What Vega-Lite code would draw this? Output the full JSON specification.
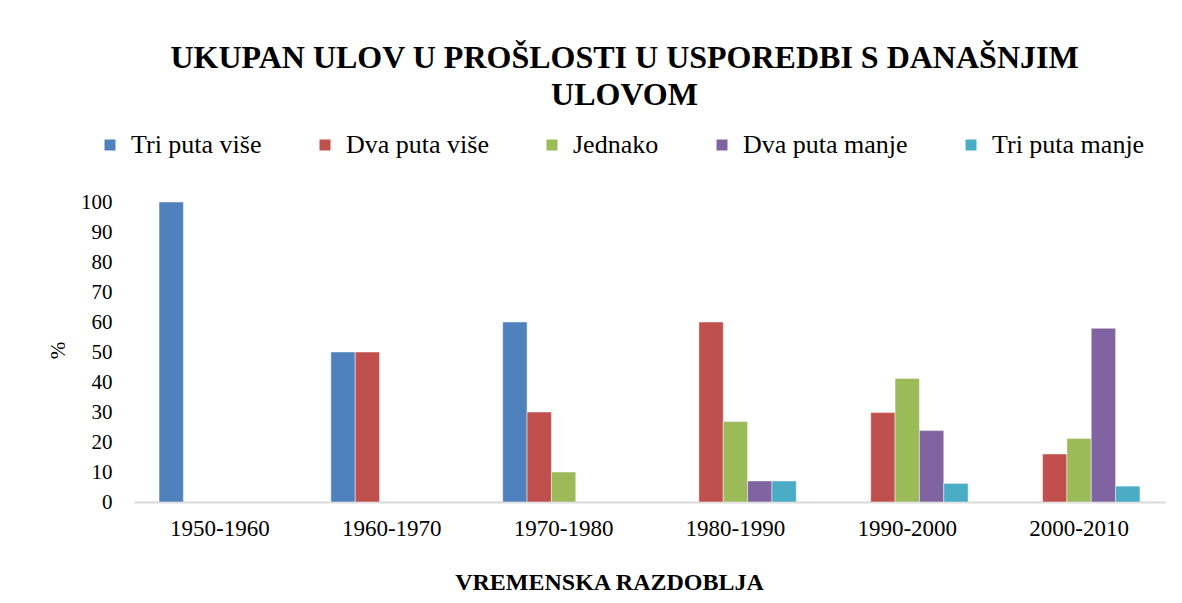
{
  "$schema": "https://vega.github.io/schema/vega-lite/v6.json",
  "width": 1031,
  "height": 300,
  "autosize": {"type": "none"},
  "padding": {"left": 134, "top": 202, "right": 17, "bottom": 101},
  "background": "white",
  "title": {
    "text": ["UKUPAN ULOV U PROŠLOSTI U USPOREDBI S DANAŠNJIM", "ULOVOM"],
    "font": "Liberation Serif",
    "fontSize": 32,
    "fontWeight": "bold",
    "color": "#000000",
    "anchor": "middle",
    "frame": "group",
    "dx": -25,
    "lineHeight": 37,
    "offset": 20
  },
  "data": {
    "values": [
      {"period": "1950-1960", "series": "Tri puta više", "value": 100},
      {"period": "1960-1970", "series": "Tri puta više", "value": 50},
      {"period": "1960-1970", "series": "Dva puta više", "value": 50},
      {"period": "1970-1980", "series": "Tri puta više", "value": 60},
      {"period": "1970-1980", "series": "Dva puta više", "value": 30},
      {"period": "1970-1980", "series": "Jednako", "value": 10},
      {"period": "1980-1990", "series": "Dva puta više", "value": 60},
      {"period": "1980-1990", "series": "Jednako", "value": 26.8},
      {"period": "1980-1990", "series": "Dva puta manje", "value": 7},
      {"period": "1980-1990", "series": "Tri puta manje", "value": 7},
      {"period": "1990-2000", "series": "Dva puta više", "value": 29.8},
      {"period": "1990-2000", "series": "Jednako", "value": 41.2},
      {"period": "1990-2000", "series": "Dva puta manje", "value": 23.8},
      {"period": "1990-2000", "series": "Tri puta manje", "value": 6.2},
      {"period": "2000-2010", "series": "Dva puta više", "value": 16},
      {"period": "2000-2010", "series": "Jednako", "value": 21.2},
      {"period": "2000-2010", "series": "Dva puta manje", "value": 57.9},
      {"period": "2000-2010", "series": "Tri puta manje", "value": 5.3}
    ]
  },
  "mark": {"type": "bar", "stroke": "white", "strokeOpacity": 0.45, "strokeWidth": 1},
  "encoding": {
    "x": {
      "field": "period",
      "type": "nominal",
      "sort": null,
      "scale": {"paddingInner": 0.2915, "paddingOuter": 0.1458},
      "axis": {
        "title": "VREMENSKA RAZDOBLJA",
        "titleFont": "Liberation Serif",
        "titleFontSize": 24,
        "titleFontWeight": "bold",
        "titleColor": "#000000",
        "titleX": 475,
        "titleY": 87,
        "titleAlign": "center",
        "titleBaseline": "alphabetic",
        "labelFont": "Liberation Serif",
        "labelFontSize": 23,
        "labelColor": "#000000",
        "labelAngle": 0,
        "labelPadding": 15,
        "ticks": false,
        "domainColor": "#d9d9d9",
        "domainWidth": 2,
        "grid": false
      }
    },
    "xOffset": {
      "field": "series",
      "type": "nominal",
      "scale": {"domain": ["Tri puta više", "Dva puta više", "Jednako", "Dva puta manje", "Tri puta manje"], "paddingInner": 0, "paddingOuter": 0}
    },
    "y": {
      "field": "value",
      "type": "quantitative",
      "scale": {"domain": [0, 100], "nice": false},
      "axis": {
        "title": "%",
        "titleFont": "Liberation Serif",
        "titleFontSize": 21,
        "titleFontWeight": "normal",
        "titleColor": "#000000",
        "titleX": -76,
        "titleY": 148,
        "titleAlign": "center",
        "titleBaseline": "middle",
        "labelFont": "Liberation Serif",
        "labelFontSize": 21,
        "labelColor": "#000000",
        "labelPadding": 22,
        "labelOverlap": false,
        "values": [0, 10, 20, 30, 40, 50, 60, 70, 80, 90, 100],
        "ticks": false,
        "domain": false,
        "grid": false
      }
    },
    "color": {
      "field": "series",
      "type": "nominal",
      "scale": {
        "domain": ["Tri puta više", "Dva puta više", "Jednako", "Dva puta manje", "Tri puta manje"],
        "range": ["#4F81BD", "#C0504D", "#9BBB59", "#8064A2", "#4BACC6"]
      },
      "legend": {
        "title": null,
        "orient": "none",
        "direction": "horizontal",
        "columns": 5,
        "legendX": -37,
        "legendY": -70,
        "padding": 0,
        "columnPadding": 50,
        "symbolType": "square",
        "symbolSize": 121,
        "symbolStrokeWidth": 0,
        "labelFont": "Liberation Serif",
        "labelFontSize": 26,
        "labelColor": "#000000",
        "labelOffset": 8,
        "labelLimit": 400
      }
    }
  },
  "config": {
    "view": {"stroke": null}
  }
}
